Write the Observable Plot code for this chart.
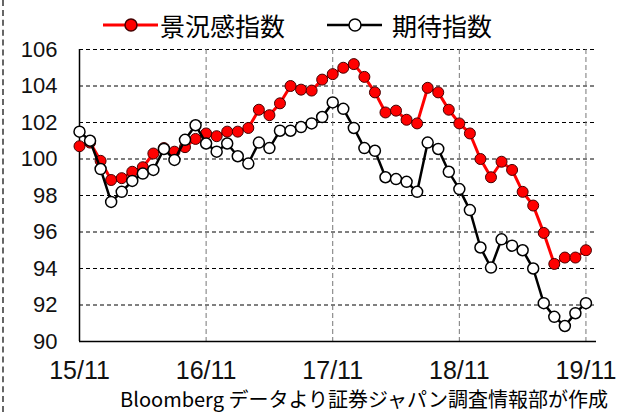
<!DOCTYPE html>
<html>
<head>
<meta charset="utf-8">
<script src="https://cdn.jsdelivr.net/npm/d3@7"></script>
<script src="https://cdn.jsdelivr.net/npm/@observablehq/plot@0.6"></script>
<style>
  html, body { margin: 0; padding: 0; background: #fff; }
  #wrap { position: relative; width: 620px; height: 412px; overflow: hidden; background: #fff; }
  #border { position: absolute; left: 2px; top: 0; height: 412px; border-left: 2px dashed #666; }
  #legend { position: absolute; left: 0; top: 0; width: 620px; height: 45px; z-index: 2;
            font-family: "Noto Sans CJK JP", sans-serif; font-size: 25px; color: #000; }
  #legend .item { position: absolute; top: 6px; display: flex; align-items: center; height: 38px; }
  #legend svg { display: block; }
  #caption { position: absolute; right: 12px; top: 387px; z-index: 2;
             font-family: "Noto Sans CJK JP", sans-serif; font-size: 20px; color: #000; white-space: nowrap; line-height: 24px; }
  #chart { position: absolute; left: 0; top: 0; }
</style>
</head>
<body>
<div id="wrap">
  <div id="border"></div>
  <div id="chart"></div>
  <div id="legend"></div>
  <div id="caption"></div>
</div>
<script>
// ---- data ----
const months = ("15/11 15/12 16/01 16/02 16/03 16/04 16/05 16/06 16/07 16/08 16/09 16/10 16/11 16/12 " +
  "17/01 17/02 17/03 17/04 17/05 17/06 17/07 17/08 17/09 17/10 17/11 17/12 " +
  "18/01 18/02 18/03 18/04 18/05 18/06 18/07 18/08 18/09 18/10 18/11 18/12 " +
  "19/01 19/02 19/03 19/04 19/05 19/06 19/07 19/08 19/09 19/10 19/11").split(" ");

const seriesNames = ["景況感指数", "期待指数"];

const keikyoValues = [
  100.7, 100.9, 99.9, 98.85, 98.95, 99.3, 99.55, 100.3, 100.6, 100.4, 100.65, 101.1,
  101.4, 101.25, 101.5, 101.5, 101.7, 102.7, 102.4, 103.05, 104.0, 103.8, 103.75, 104.35,
  104.65, 105.0, 105.2, 104.5, 103.65, 102.55, 102.65, 102.15, 101.95, 103.9, 103.65, 102.7,
  101.95, 101.4, 100.0, 99.0, 99.85, 99.4, 98.2, 97.45, 95.95, 94.25, 94.6, 94.6, 95.0
];

const kitaiValues = [
  101.5, 101.0, 99.45, 97.65, 98.2, 98.8, 99.2, 99.4, 100.55, 99.95, 101.05, 101.85,
  100.85, 100.4, 100.85, 100.15, 99.75, 100.9, 100.6, 101.55, 101.55, 101.75, 101.95, 102.3,
  103.1, 102.75, 101.7, 100.6, 100.45, 99.0, 98.9, 98.75, 98.2, 100.9, 100.55, 99.3,
  98.35, 97.2, 95.15, 94.05, 95.6, 95.25, 95.0, 94.0, 92.1, 91.35, 90.85, 91.55, 92.1
];

const xTickLabels = ["15/11", "16/11", "17/11", "18/11", "19/11"];
const yTickValues = [90, 92, 94, 96, 98, 100, 102, 104, 106];
const captionText = "Bloomberg データより証券ジャパン調査情報部が作成";

// ---- build tables ----
const keikyo = keikyoValues.map((v, i) => ({i, month: months[i], value: v}));
const kitai = kitaiValues.map((v, i) => ({i, month: months[i], value: v}));
const xTickIdx = xTickLabels.map(l => months.indexOf(l));

const chart = Plot.plot({
  width: 620,
  height: 412,
  marginTop: 49,
  marginBottom: 71,
  marginLeft: 79,
  marginRight: 24,
  style: {fontFamily: "'Liberation Sans', Arial, sans-serif", background: "transparent", color: "#000", overflow: "visible"},
  x: {domain: [0, months.length], axis: null},
  y: {domain: [90, 106], axis: null},
  marks: [
    Plot.gridY(yTickValues.slice(1), {stroke: "#000", strokeOpacity: 1, strokeWidth: 1, strokeDasharray: "4,3"}),
    Plot.gridX(xTickIdx.slice(1), {stroke: "#777", strokeOpacity: 1, strokeWidth: 1, strokeDasharray: "5,3"}),
    Plot.axisY(yTickValues, {tickSize: 0, tickPadding: 22, fontSize: 22, label: null, fill: "#111"}),
    Plot.axisX(xTickIdx, {tickSize: 0, tickPadding: 20, fontSize: 25, label: null, fill: "#111",
      tickFormat: i => months[i]}),
    Plot.ruleX([0], {y1: 90, y2: 106, stroke: "#000", strokeWidth: 1.5}),
    Plot.ruleY([90], {x1: 0, x2: months.length, stroke: "#000", strokeWidth: 1.5}),
    Plot.line(keikyo, {x: "i", y: "value", stroke: "#ff0000", strokeWidth: 3}),
    Plot.dot(keikyo, {x: "i", y: "value", r: 5.5, fill: "#ff0000", stroke: "#400", strokeWidth: 1}),
    Plot.line(kitai, {x: "i", y: "value", stroke: "#000", strokeWidth: 2.5}),
    Plot.dot(kitai, {x: "i", y: "value", r: 5.5, fill: "#fff", stroke: "#000", strokeWidth: 1.5})
  ]
});
document.getElementById("chart").appendChild(chart);

// ---- legend ----
const legend = document.getElementById("legend");
const legendSpec = [
  {name: seriesNames[0], left: 102, line: "#ff0000", lw: 3, fill: "#ff0000", stroke: "#400"},
  {name: seriesNames[1], left: 326, line: "#000", lw: 2.5, fill: "#fff", stroke: "#000"}
];
legendSpec.forEach(s => {
  const item = document.createElement("div");
  item.className = "item";
  item.style.left = s.left + "px";
  item.innerHTML =
    `<svg width="58" height="20"><line x1="1" x2="56" y1="10" y2="10" stroke="${s.line}" stroke-width="${s.lw}"/>` +
    `<circle cx="29" cy="10" r="6" fill="${s.fill}" stroke="${s.stroke}" stroke-width="1.5"/></svg>` +
    `<span style="margin-left:${s.name.length === 5 ? 0 : 8}px">${s.name}</span>`;
  legend.appendChild(item);
});
document.getElementById("caption").textContent = captionText;
</script>
</body>
</html>
